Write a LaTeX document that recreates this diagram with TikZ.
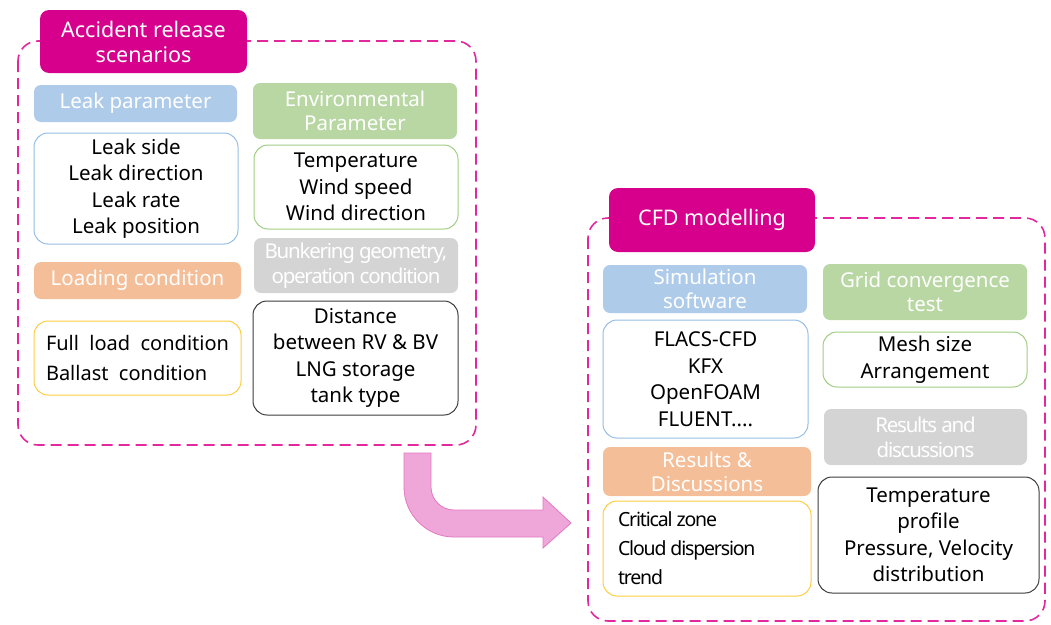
\documentclass[tikz,border=0pt]{standalone}
\usepackage{fontspec}
\setmainfont{Noto Sans}
\definecolor{titlemag}{RGB}{214,0,140}
\definecolor{framemag}{RGB}{226,40,156}
\definecolor{hdblue}{RGB}{174,203,234}
\definecolor{lnblue}{RGB}{150,190,228}
\definecolor{hdpeach}{RGB}{244,190,152}
\definecolor{lnyellow}{RGB}{255,204,64}
\definecolor{hdgreen}{RGB}{184,215,163}
\definecolor{lngreen}{RGB}{160,205,130}
\definecolor{hdgray}{RGB}{212,212,212}
\definecolor{lndark}{RGB}{60,60,60}
\definecolor{arrowfill}{RGB}{238,167,216}
\definecolor{arrowline}{RGB}{228,120,196}
\newcommand{\tight}{\addfontfeature{LetterSpace=-6}}
\begin{document}
\begin{tikzpicture}[x=1pt, y=-1pt,
  frame/.style={draw=framemag, line width=1.6pt, dash pattern=on 11pt off 6pt, rounded corners=20pt},
  title/.style={fill=titlemag, rounded corners=9pt, text=white, align=center, inner sep=0pt, font=\fontsize{21.5}{25}\selectfont},
  head/.style={rounded corners=7pt, text=white, align=center, inner sep=0pt, font=\fontsize{20.5}{24}\selectfont},
  body/.style={rounded corners=14pt, line width=1pt, fill=white, align=center, inner sep=0pt, font=\fontsize{20.5}{26.5}\selectfont}]
\useasboundingbox (0,0) rectangle (1051,624);

% left group
\draw[frame] (18,41) rectangle (476,445);
\node[title, minimum width=207pt, minimum height=63pt] (acc) at (143.5,41.5) {Accident release\\scenarios};
\node[head, fill=hdblue, minimum width=203pt, minimum height=37pt] (leakhd) at (135.5,103.5) {Leak parameter};
\node[body, draw=lnblue, minimum width=204pt, minimum height=111pt] (leakbx) at (136,188.5) {Leak side\\Leak direction\\Leak rate\\Leak position};
\node[head, fill=hdpeach, minimum width=207pt, minimum height=37pt] (loadhd) at (137.5,280.5) {Loading condition};
\node[body, draw=lnyellow, minimum width=207pt, minimum height=74pt, font=\fontsize{20}{30}\selectfont, align=left] (loadbx) at (137.5,358) {Full\ \ load\ \ condition\\Ballast\ \ condition};
\node[head, fill=hdgreen, minimum width=204pt, minimum height=56pt] (envhd) at (355,111) {Environmental\\Parameter};
\node[body, draw=lngreen, minimum width=204pt, minimum height=84pt] (envbx) at (356,187) {Temperature\\Wind speed\\Wind direction};
\node[head, fill=hdgray, minimum width=204pt, minimum height=55pt, font=\fontsize{20.5}{25}\selectfont\tight] (bunkhd) at (356,265.5) {Bunkering geometry,\\operation condition};
\node[body, draw=lndark, minimum width=205pt, minimum height=114pt] (distbx) at (355.5,358) {Distance\\between RV \& BV\\LNG storage\\tank type};

% transition arrow
\draw[fill=arrowfill, draw=arrowline, line width=0.8pt]
  (404,453) -- (404,487) .. controls (404,514.6) and (426.4,537) .. (454,537)
  -- (543,537) -- (543,548) -- (571,523) -- (543,497) -- (543,510)
  -- (454,510) .. controls (441.3,510) and (431,499.7) .. (431,487) -- (431,453) -- cycle;

% right group
\draw[frame] (588,218) rectangle (1045,621);
\node[title, minimum width=206pt, minimum height=64pt] (cfd) at (712,220) {CFD modelling};
\node[head, fill=hdblue, minimum width=204pt, minimum height=48pt] (simhd) at (705,289) {Simulation\\software};
\node[body, draw=lnblue, minimum width=205pt, minimum height=118pt] (simbx) at (705.5,379) {FLACS-CFD\\KFX\\OpenFOAM\\FLUENT....};
\node[head, fill=hdpeach, minimum width=208pt, minimum height=49pt] (reshd) at (707,471.5) {Results \&\\Discussions};
\node[body, draw=lnyellow, minimum width=208pt, minimum height=95pt, align=left, font=\fontsize{19.5}{29}\selectfont\tight] (resbx) at (707,548.5) {\makebox[178pt][l]{Critical zone}\\Cloud dispersion\\trend};
\node[head, fill=hdgreen, minimum width=204pt, minimum height=56pt] (gridhd) at (925,292) {Grid convergence\\test};
\node[body, draw=lngreen, minimum width=204pt, minimum height=55pt] (meshbx) at (925,359.5) {Mesh size\\Arrangement};
\node[head, fill=hdgray, minimum width=203pt, minimum height=56pt, font=\fontsize{20.5}{25}\selectfont\tight] (rdhd) at (925.5,437) {Results and\\discussions};
\node[body, draw=lndark, minimum width=221pt, minimum height=116pt] (tempbx) at (928.5,535) {Temperature\\profile\\Pressure, Velocity\\distribution};
\end{tikzpicture}
\end{document}
